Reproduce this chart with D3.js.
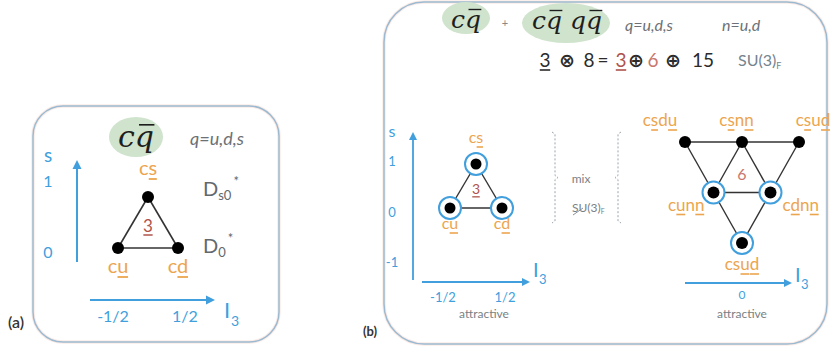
<!DOCTYPE html>
<html>
<head>
<meta charset="utf-8">
<script src="https://cdn.jsdelivr.net/npm/d3@7"></script>
<style>
  body { margin: 0; background: #fff; }
  svg { display: block; }
</style>
</head>
<body>
<svg id="chart" width="832" height="352"></svg>
<script>
// ---------------------------------------------------------------
// Flavour content of the charm states
// ---------------------------------------------------------------

// c q̄ anti-triplet: weights (I3, S); underline index marks the antiquark
const tripletNames = ["cs", "cu", "cd"];
const tripletUnder = [[1], [1], [1]];
const tripletI3 = [0, -0.5, 0.5];
const tripletS = [1, 0, 0];
const tripletEdges = [[0, 1], [1, 2], [2, 0]];

// c q̄ q q̄ sextet
const sextetNames = ["csdu", "csnn", "csud", "cunn", "cdnn", "csud"];
const sextetUnder = [[1, 3], [1, 3], [1, 3], [1, 3], [1, 3], [2, 3]];
const sextetI3 = [-1, 0, 1, -0.5, 0.5, 0];
const sextetS = [1, 1, 1, 0, 0, -1];
const sextetMixes = [false, false, false, true, true, true];
const sextetEdges = [[0, 1], [1, 2], [3, 4], [0, 3], [3, 5], [2, 4], [4, 5], [1, 3], [1, 4]];

// axis ticks
const ticksA_S = [1, 0];
const ticksA_I3 = [-0.5, 0.5];
const ticksB_S = [1, 0, -1];
const ticksB_I3 = [-0.5, 0.5];
const ticksSextet_I3 = [0];

// D-meson names beside the (a) rows
const dStateS = [1, 0];
const dStateSub = ["s0", "0"];

// flavour product  3 ⊗ 8 = 3 ⊕ 6 ⊕ 15
const productTokens = ["3", "⊗", "8", "=", "3", "⊕", "6", "⊕", "15"];

// ---------------------------------------------------------------
const C = {
  blue: "#419fdd",
  orange: "#eca54f",
  brown: "#b0534b",
  brown2: "#c9776d",
  gray: "#6c7176",
  ink: "#2b2b2b",
  green: "#cfe3cd",
  frame: "#9bbad1",
  halo: "#fbebe6",
  dash: "#9aa5ad"
};
const SANS = "Lato, 'Open Sans', 'DejaVu Sans', sans-serif";
const SERIF = "'DejaVu Serif', 'Liberation Serif', serif";
const SYM = "'DejaVu Sans', sans-serif";

const svg = d3.select("#chart");
const fracFmt = v => v === 0.5 ? "1/2" : v === -0.5 ? "-1/2" : String(v);

function txt(g, x, y, s, o = {}) {
  return g.append("text")
    .attr("x", x).attr("y", y)
    .attr("text-anchor", o.anchor || "middle")
    .attr("fill", o.color || C.ink)
    .style("font-family", o.family || SANS)
    .style("font-size", (o.size || 14) + "px")
    .style("font-style", o.italic ? "italic" : "normal")
    .style("font-weight", o.weight || 400)
    .text(s);
}

// text with selected characters underlined
function underText(g, x, y, s, idx, o) {
  const t = txt(g, x, y, s, o);
  const n = t.node();
  idx.forEach(i => {
    const e = n.getExtentOfChar(i);
    g.append("line")
      .attr("x1", e.x + 0.3).attr("x2", e.x + e.width - 0.3)
      .attr("y1", y + (o.gap || 3.5)).attr("y2", y + (o.gap || 3.5))
      .attr("stroke", o.color).attr("stroke-width", o.uw || 1.6);
  });
  return t;
}

// italic serif with an overbar on given characters (antiquarks)
function barText(g, x, y, s, idx, size) {
  const t = txt(g, x, y, s, { family: SERIF, italic: true, size, color: "#1e1e1e" });
  const n = t.node();
  idx.forEach(i => {
    const e = n.getExtentOfChar(i);
    const yb = y - size * 0.74;
    g.append("line")
      .attr("x1", e.x + e.width * 0.22).attr("x2", e.x + e.width * 1.02)
      .attr("y1", yb).attr("y2", yb)
      .attr("stroke", "#1e1e1e").attr("stroke-width", size * 0.055);
  });
}

function arrow(g, x1, y1, x2, y2, w, head) {
  const dx = x2 - x1, dy = y2 - y1, L = Math.hypot(dx, dy);
  const ux = dx / L, uy = dy / L;
  const bx = x2 - ux * head, by = y2 - uy * head;
  g.append("line").attr("x1", x1).attr("y1", y1).attr("x2", bx).attr("y2", by)
    .attr("stroke", C.blue).attr("stroke-width", w);
  const hw = head * 0.5;
  g.append("path")
    .attr("d", `M${x2},${y2}L${bx - uy * hw},${by + ux * hw}L${bx + uy * hw},${by - ux * hw}Z`)
    .attr("fill", C.blue);
}

function frame(x0, y0, x1, y1, r) {
  svg.append("rect").attr("x", x0).attr("y", y0).attr("width", x1 - x0).attr("height", y1 - y0)
    .attr("rx", r).attr("fill", "none").attr("stroke", C.halo).attr("stroke-width", 3.5);
  svg.append("rect").attr("x", x0).attr("y", y0).attr("width", x1 - x0).attr("height", y1 - y0)
    .attr("rx", r).attr("fill", "none").attr("stroke", C.frame).attr("stroke-width", 1.5);
}

// ===============================================================
// (a)  c q̄
// ===============================================================
frame(33, 106, 279, 342, 30);
const gA = svg.append("g");

gA.append("ellipse").attr("cx", 136).attr("cy", 137).attr("rx", 27).attr("ry", 20).attr("fill", C.green);
barText(gA, 136, 147, "cq", [1], 30);
txt(gA, 190, 145, "q=u,d,s", { anchor: "start", italic: true, size: 18, color: C.gray });

const xA = d3.scaleLinear().domain([-0.5, 0.5]).range([118, 178]);
const yA = d3.scaleLinear().domain([0, 1]).range([248, 197]);
const xAt = d3.scaleLinear().domain([-0.5, 0.5]).range([113, 185]);
const yAt = d3.scaleLinear().domain([0, 1]).range([258, 187]);

// axes
arrow(gA, 77, 262, 77, 160, 2, 9);
arrow(gA, 90, 300, 215, 300, 2, 9);
txt(gA, 48, 162, "s", { size: 19, color: C.blue });
ticksA_S.forEach(v => txt(gA, 48, yAt(v), fracFmt(v), { size: 16, color: C.blue }));
ticksA_I3.forEach(v => txt(gA, xAt(v), 322, fracFmt(v), { size: 16, color: C.blue }));
txt(gA, 224, 318, "I", { anchor: "start", size: 22, color: C.blue });
txt(gA, 231, 326, "3", { anchor: "start", size: 14, color: C.blue });

// triangle
tripletEdges.forEach(([a, b]) => gA.append("line")
  .attr("x1", xA(tripletI3[a])).attr("y1", yA(tripletS[a]))
  .attr("x2", xA(tripletI3[b])).attr("y2", yA(tripletS[b]))
  .attr("stroke", "#333").attr("stroke-width", 1.6));
tripletNames.forEach((nm, i) => {
  gA.append("circle").attr("cx", xA(tripletI3[i])).attr("cy", yA(tripletS[i])).attr("r", 6).attr("fill", "#000");
  const ly = tripletS[i] > 0 ? yA(tripletS[i]) - 22 : yA(tripletS[i]) + 25;
  underText(gA, xA(tripletI3[i]), ly, nm, tripletUnder[i], { size: 20, color: C.orange, gap: 4, uw: 1.8 });
});
const cyA = d3.mean(tripletS, s => yA(s));
underText(gA, d3.mean(tripletI3, v => xA(v)), cyA + 1, "3", [0], { size: 17, color: C.brown, gap: 3, uw: 1.5 });

// D-meson names
dStateS.forEach((s, i) => {
  const t = gA.append("text").attr("x", 203).attr("y", s > 0 ? yA(s) - 1 : yA(s) + 5)
    .attr("fill", "#63686d").style("font-family", SANS).style("font-size", "20px");
  t.append("tspan").text("D");
  t.append("tspan").attr("dy", 4).style("font-size", "13px").text(dStateSub[i]);
  t.append("tspan").attr("dx", 2).attr("dy", -14).style("font-size", "13px").text("*");
});

txt(svg, 8, 328, "(a)", { anchor: "start", size: 16, color: "#333", weight: 600 });

// ===============================================================
// (b)  c q̄  +  c q̄ q q̄
// ===============================================================
frame(384, 2, 827, 344, 40);
const gB = svg.append("g");

gB.append("ellipse").attr("cx", 466).attr("cy", 18).attr("rx", 24).attr("ry", 16).attr("fill", C.green);
gB.append("ellipse").attr("cx", 566).attr("cy", 23).attr("rx", 44).attr("ry", 20).attr("fill", C.green);
barText(gB, 466, 28, "cq", [1], 25);
barText(gB, 567, 29, "cq qq", [1, 4], 25);
txt(gB, 505, 27, "+", { size: 11, color: "#888" });
txt(gB, 625, 31, "q=u,d,s", { anchor: "start", italic: true, size: 16, color: C.gray });
txt(gB, 722, 31, "n=u,d", { anchor: "start", italic: true, size: 16, color: C.gray });

// 3 ⊗ 8 = 3 ⊕ 6 ⊕ 15
const tokX = [545, 567, 589, 603, 621, 636, 653, 673, 703];
const tokColor = [C.ink, C.ink, C.ink, C.ink, C.brown, C.ink, C.brown2, C.ink, C.ink];
productTokens.forEach((tk, i) => {
  const o = { size: 19, color: tokColor[i], gap: 3 };
  if (i === 0 || i === 4) underText(gB, tokX[i], 67, tk, [0], o);
  else if (tk === "⊗" || tk === "⊕") txt(gB, tokX[i], 67, tk, { ...o, family: SYM, size: 19, weight: 700 });
  else txt(gB, tokX[i], 67, tk, o);
});
const su = gB.append("text").attr("x", 738).attr("y", 66).attr("fill", "#74848f")
  .style("font-family", SANS).style("font-size", "16px");
su.append("tspan").text("SU(3)");
su.append("tspan").attr("dy", 3).style("font-size", "9px").text("F");

// --- triplet with mixing circles ---
const xB = d3.scaleLinear().domain([-0.5, 0.5]).range([450, 502]);
const yB = d3.scaleLinear().domain([0, 1]).range([208, 164]);
const xBt = d3.scaleLinear().domain([-0.5, 0.5]).range([443, 505]);
const yBt = d3.scaleLinear().domain([-1, 1]).range([267, 166]);

arrow(gB, 413, 280, 413, 132, 1.8, 8);
arrow(gB, 422, 282, 530, 282, 1.8, 8);
txt(gB, 392, 137, "s", { size: 16, color: C.blue });
ticksB_S.forEach(v => txt(gB, 392, yBt(v), fracFmt(v), { size: 13, color: C.blue }));
ticksB_I3.forEach(v => txt(gB, xBt(v), 302, fracFmt(v), { size: 13, color: C.blue }));
txt(gB, 533, 277, "I", { anchor: "start", size: 20, color: C.blue });
txt(gB, 539, 284, "3", { anchor: "start", size: 13, color: C.blue });
txt(gB, 484, 318, "attractive", { size: 12, color: "#7a7f84" });

tripletEdges.forEach(([a, b]) => gB.append("line")
  .attr("x1", xB(tripletI3[a])).attr("y1", yB(tripletS[a]))
  .attr("x2", xB(tripletI3[b])).attr("y2", yB(tripletS[b]))
  .attr("stroke", "#333").attr("stroke-width", 1.4));
tripletNames.forEach((nm, i) => {
  const cx = xB(tripletI3[i]), cy = yB(tripletS[i]);
  gB.append("circle").attr("cx", cx).attr("cy", cy).attr("r", 11).attr("fill", "#fff")
    .attr("stroke", C.blue).attr("stroke-width", 2);
  gB.append("circle").attr("cx", cx).attr("cy", cy).attr("r", 5.5).attr("fill", "#000");
  const ly = tripletS[i] > 0 ? cy - 21 : cy + 21;
  underText(gB, cx, ly, nm, tripletUnder[i], { size: 16, color: C.orange, gap: 4, uw: 1.6 });
});
underText(gB, d3.mean(tripletI3, v => xB(v)), d3.mean(tripletS, s => yB(s)) + 1, "3", [0],
  { size: 14, color: C.brown, gap: 2.5, uw: 1.3 });

// --- mixing braces ---
function brace(x, y0, y1, dir) {
  const ym = (y0 + y1) / 2;
  gB.append("path")
    .attr("d", `M${x - 3 * dir},${y0}L${x},${y0 + 2}L${x},${ym - 2}L${x + 3 * dir},${ym}L${x},${ym + 2}L${x},${y1 - 2}L${x - 3 * dir},${y1}`)
    .attr("fill", "none").attr("stroke", C.dash).attr("stroke-width", 1).attr("stroke-dasharray", "2,2");
}
brace(555, 132, 223, 1);
brace(618, 132, 223, -1);
txt(gB, 581, 183, "mix", { size: 12, color: "#7a7f84" });
const su2 = gB.append("text").attr("x", 572).attr("y", 212).attr("fill", "#7a7f84")
  .style("font-family", SANS).style("font-size", "12px");
su2.append("tspan").text("SU(3)");
su2.append("tspan").attr("dy", 2).style("font-size", "7px").text("F");
gB.append("line").attr("x1", 573).attr("y1", 215).attr("x2", 583).attr("y2", 208)
  .attr("stroke", "#8a9096").attr("stroke-width", 1);

// --- sextet ---
const xS = d3.scaleLinear().domain([-1, 1]).range([685, 799]);
const yS = d3.scaleLinear().domain([-1, 1]).range([243, 142]);
const xSlab = d3.scaleLinear().domain([-1, 1]).range([660, 813]);

sextetEdges.forEach(([a, b]) => gB.append("line")
  .attr("x1", xS(sextetI3[a])).attr("y1", yS(sextetS[a]))
  .attr("x2", xS(sextetI3[b])).attr("y2", yS(sextetS[b]))
  .attr("stroke", "#333").attr("stroke-width", 1.4));
sextetNames.forEach((nm, i) => {
  const cx = xS(sextetI3[i]), cy = yS(sextetS[i]);
  if (sextetMixes[i]) gB.append("circle").attr("cx", cx).attr("cy", cy).attr("r", 11).attr("fill", "#fff")
    .attr("stroke", C.blue).attr("stroke-width", 2);
  gB.append("circle").attr("cx", cx).attr("cy", cy).attr("r", 6).attr("fill", "#000");
  const o = { size: 17, color: C.orange, gap: 4, uw: 1.6 };
  if (sextetS[i] > 0) underText(gB, xSlab(sextetI3[i]), cy - 16, nm, sextetUnder[i], o);
  else if (sextetS[i] < 0) underText(gB, cx, cy + 27, nm, sextetUnder[i], o);
  else if (sextetI3[i] < 0) underText(gB, cx - 9, cy + 18, nm, sextetUnder[i], { ...o, anchor: "end" });
  else underText(gB, cx + 12, cy + 18, nm, sextetUnder[i], { ...o, anchor: "start" });
});
txt(gB, xS(0), 180, "6", { size: 16, color: C.brown2 });

arrow(gB, 685, 283, 792, 283, 1.8, 8);
ticksSextet_I3.forEach(v => txt(gB, xS(v), 299, fracFmt(v), { size: 12, color: C.blue }));
txt(gB, 795, 282, "I", { anchor: "start", size: 20, color: C.blue });
txt(gB, 801, 289, "3", { anchor: "start", size: 13, color: C.blue });
txt(gB, xS(0), 318, "attractive", { size: 12, color: "#7a7f84" });

txt(svg, 363, 336, "(b)", { anchor: "start", size: 13, color: "#333", weight: 700 });
</script>
</body>
</html>
